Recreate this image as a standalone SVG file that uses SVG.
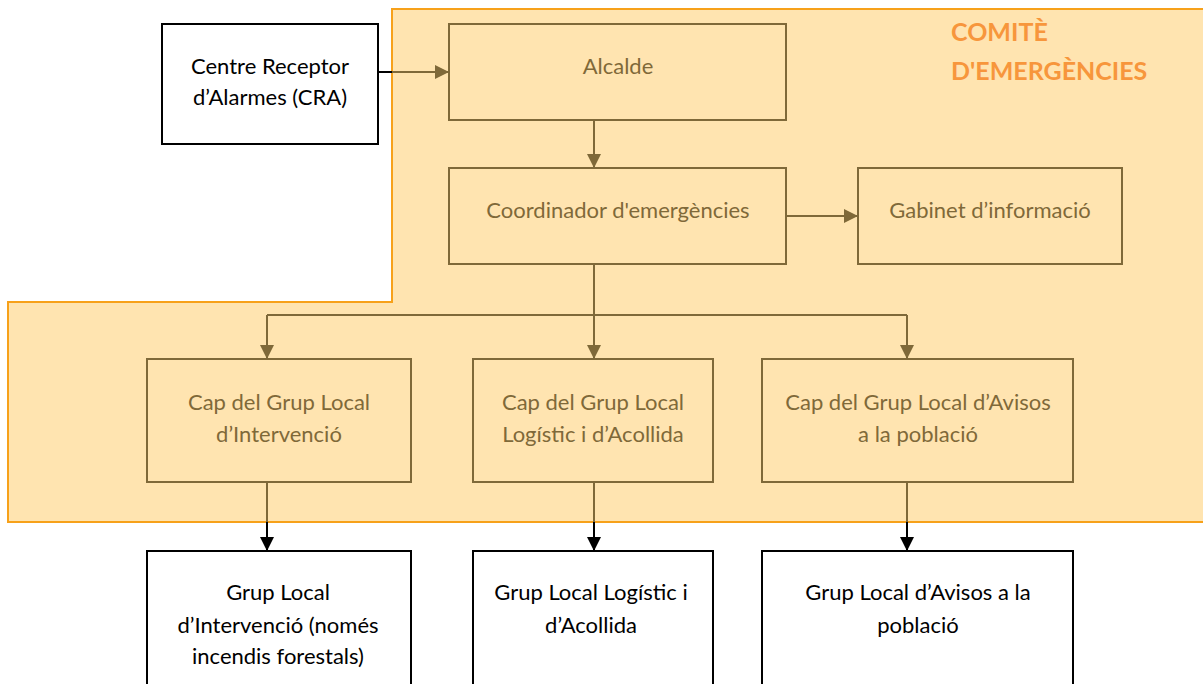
<svg xmlns="http://www.w3.org/2000/svg" width="1203" height="684" viewBox="0 0 1203 684">
<style>
.t{font-family:Lato,"Open Sans","Liberation Sans",sans-serif;font-size:22px;text-anchor:middle}
.tk{fill:#000}
.tb{fill:#7F6939}
.bk{fill:#fff;stroke:#000;stroke-width:2}
.bb{fill:none;stroke:#7F6939;stroke-width:2}
.ck{stroke:#000;stroke-width:2;fill:none}
.cb{stroke:#7F6939;stroke-width:2;fill:none}
.title{font-family:Lato,"Open Sans","Liberation Sans",sans-serif;font-size:25px;font-weight:bold;fill:#F7963C}
</style>
<defs>
<marker id="ak" markerUnits="userSpaceOnUse" markerWidth="16" markerHeight="16" refX="14" refY="7" orient="auto"><path d="M0,0 L14,7 L0,14 Z" fill="#000"/></marker>
<marker id="ab" markerUnits="userSpaceOnUse" markerWidth="16" markerHeight="16" refX="14" refY="7" orient="auto"><path d="M0,0 L14,7 L0,14 Z" fill="#7F6939"/></marker>
</defs>
<rect width="1203" height="684" fill="#fff"/>
<g id="comite">
<path d="M392,9 L1205,9 L1205,522 L8,522 L8,302 L392,302 Z" fill="#FFE4B0" stroke="#F7A11A" stroke-width="2"/>
<text class="title" x="951" y="41">COMITÈ</text>
<text class="title" x="951" y="80">D'EMERGÈNCIES</text>
</g>
<g id="connectors">
<line class="ck" x1="378" y1="72" x2="392" y2="72"/>
<line class="cb" x1="392" y1="72" x2="449" y2="72" marker-end="url(#ab)"/>
<line class="cb" x1="594" y1="120" x2="594" y2="168" marker-end="url(#ab)"/>
<line class="cb" x1="786" y1="216" x2="858" y2="216" marker-end="url(#ab)"/>
<polyline class="cb" points="594,264 594,315"/>
<polyline class="cb" points="267,315 907,315"/>
<line class="cb" x1="267" y1="315" x2="267" y2="359" marker-end="url(#ab)"/>
<line class="cb" x1="594" y1="315" x2="594" y2="359" marker-end="url(#ab)"/>
<line class="cb" x1="907" y1="315" x2="907" y2="359" marker-end="url(#ab)"/>
<line class="cb" x1="267" y1="482" x2="267" y2="522"/>
<line class="ck" x1="267" y1="522" x2="267" y2="551" marker-end="url(#ak)"/>
<line class="cb" x1="594" y1="482" x2="594" y2="522"/>
<line class="ck" x1="594" y1="522" x2="594" y2="551" marker-end="url(#ak)"/>
<line class="cb" x1="907" y1="482" x2="907" y2="522"/>
<line class="ck" x1="907" y1="522" x2="907" y2="551" marker-end="url(#ak)"/>
</g>
<g id="cra">
<rect class="bk" x="162" y="24" width="216" height="120"/>
<text class="t tk" x="270" y="74">Centre Receptor</text>
<text class="t tk" x="270" y="105">d’Alarmes (CRA)</text>
</g>
<g id="alcalde">
<rect class="bb" x="449" y="24" width="337" height="96"/>
<text class="t tb" x="618" y="74">Alcalde</text>
</g>
<g id="coordinador">
<rect class="bb" x="449" y="168" width="337" height="96"/>
<text class="t tb" x="618" y="218">Coordinador d'emergències</text>
</g>
<g id="gabinet">
<rect class="bb" x="858" y="168" width="264" height="96"/>
<text class="t tb" x="990" y="218">Gabinet d’informació</text>
</g>
<g id="cap-intervencio">
<rect class="bb" x="147" y="359" width="264" height="123"/>
<text class="t tb" x="279" y="410">Cap del Grup Local</text>
<text class="t tb" x="279" y="442">d’Intervenció</text>
</g>
<g id="cap-logistic">
<rect class="bb" x="473" y="359" width="240" height="123"/>
<text class="t tb" x="593" y="410">Cap del Grup Local</text>
<text class="t tb" x="593" y="442">Logístic i d’Acollida</text>
</g>
<g id="cap-avisos">
<rect class="bb" x="762" y="359" width="311" height="123"/>
<text class="t tb" x="918" y="410">Cap del Grup Local d’Avisos</text>
<text class="t tb" x="918" y="442">a la població</text>
</g>
<g id="grup-intervencio">
<rect class="bk" x="147" y="551" width="264" height="140"/>
<text class="t tk" x="278" y="600">Grup Local</text>
<text class="t tk" x="278" y="633">d’Intervenció (només</text>
<text class="t tk" x="278" y="664">incendis forestals)</text>
</g>
<g id="grup-logistic">
<rect class="bk" x="473" y="551" width="240" height="140"/>
<text class="t tk" x="591" y="600">Grup Local Logístic i</text>
<text class="t tk" x="591" y="633">d’Acollida</text>
</g>
<g id="grup-avisos">
<rect class="bk" x="762" y="551" width="311" height="140"/>
<text class="t tk" x="918" y="600">Grup Local d’Avisos a la</text>
<text class="t tk" x="918" y="633">població</text>
</g>
</svg>
